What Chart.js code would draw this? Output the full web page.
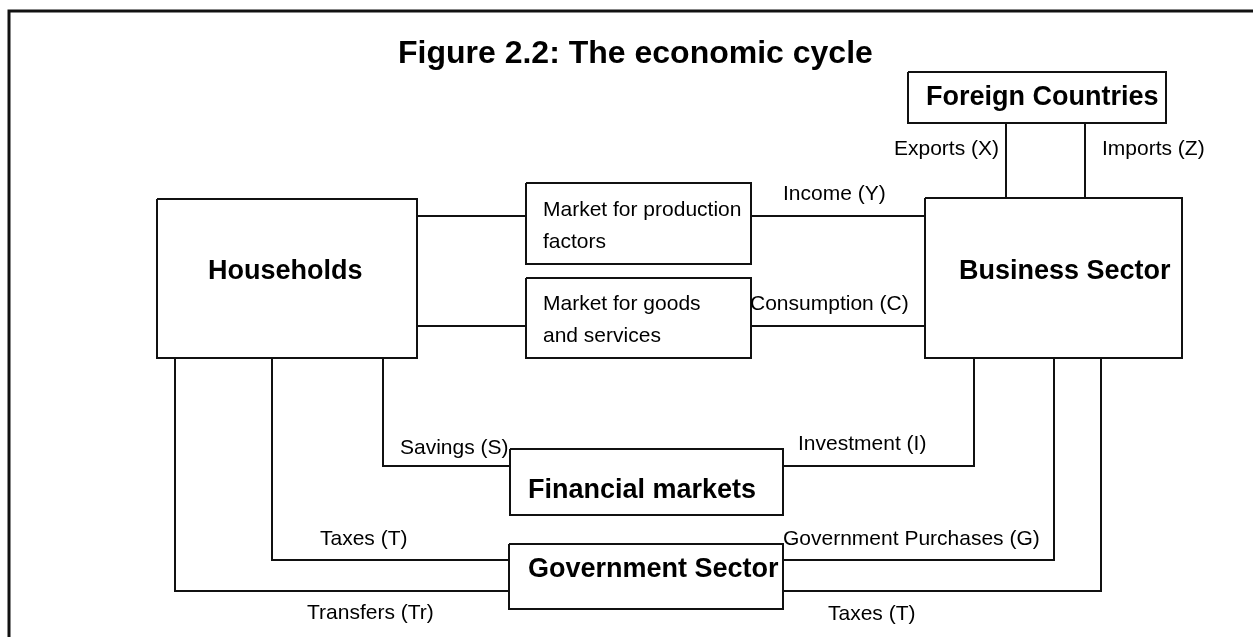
<!DOCTYPE html>
<html>
<head>
<meta charset="utf-8">
<title>Figure 2.2: The economic cycle</title>
<script src="https://cdn.jsdelivr.net/npm/chart.js@4.4.1/dist/chart.umd.min.js"></script>
<style>
    html, body { margin: 0; padding: 0; background: #fff; }
    .chart-container { position: relative; width: 1253px; height: 637px; }
</style>
</head>
<body>
<div class="chart-container"><canvas id="myChart"></canvas></div>
<script>
// Diagram units = reference pixels (x to the right, y downwards)
const plotWidth = 1253;
const plotHeight = 637;

const titleText = 'Figure 2.2: The economic cycle';
const titleX = 398;
const titleY = 63;

// Sector / market boxes
const boxNames = ['Foreign Countries', 'Households', 'Business Sector',
    'Market for production\nfactors', 'Market for goods\nand services',
    'Financial markets', 'Government Sector'];
const boxLeft   = [908, 157, 925, 526, 526, 510, 509];
const boxTop    = [72, 199, 198, 183, 278, 449, 544];
const boxRight  = [1166, 417, 1182, 751, 751, 783, 783];
const boxBottom = [123, 358, 358, 264, 358, 515, 609];
const boxBold   = [true, true, true, false, false, true, true];
const boxTextX  = [926, 208, 959, 543, 543, 528, 528];
const boxTextY  = [105, 279, 279, 216, 310, 498, 577];

// Flows between boxes (polylines)
const flowNames = ['Exports', 'Imports', 'Factors HH', 'Income', 'Goods HH', 'Consumption',
    'Savings', 'Investment', 'Taxes HH', 'Government Purchases', 'Transfers', 'Taxes business'];
const flowX = [
    [1006, 1006], [1085, 1085], [417, 526], [751, 925], [417, 526], [751, 925],
    [383, 383, 510], [783, 974, 974], [272, 272, 509], [783, 1054, 1054],
    [175, 175, 509], [783, 1101, 1101]
];
const flowY = [
    [123, 198], [123, 198], [216, 216], [216, 216], [326, 326], [326, 326],
    [358, 466, 466], [466, 466, 358], [358, 560, 560], [560, 560, 358],
    [358, 591, 591], [591, 591, 358]
];

// Flow labels
const labelTexts = ['Exports (X)', 'Imports (Z)', 'Income (Y)', 'Consumption (C)',
    'Savings (S)', 'Investment (I)', 'Taxes (T)', 'Government Purchases (G)',
    'Transfers (Tr)', 'Taxes (T)'];
const labelX = [894, 1102, 783, 750, 400, 798, 320, 783, 307, 828];
const labelY = [155, 155, 200, 310, 454, 450, 545, 545, 619, 620];

// Page frame (top and left edges)
const frameX = [9, 9, 1253];
const frameY = [637, 11, 11];

function toPoints(xs, ys) {
    return xs.map((x, i) => ({ x: x, y: ys[i] }));
}

function lineDataset(label, points, width) {
    return {
        label: label,
        data: points,
        showLine: true,
        borderColor: '#111111',
        borderWidth: width,
        pointRadius: 0,
        fill: false,
        tension: 0
    };
}

const datasets = [];
datasets.push(lineDataset('Frame', toPoints(frameX, frameY), 3));
boxNames.forEach((name, i) => {
    const xs = [boxLeft[i], boxRight[i], boxRight[i], boxLeft[i], boxLeft[i]];
    const ys = [boxTop[i], boxTop[i], boxBottom[i], boxBottom[i], boxTop[i]];
    datasets.push(lineDataset(name, toPoints(xs, ys), 2));
});
flowNames.forEach((name, i) => {
    datasets.push(lineDataset(name, toPoints(flowX[i], flowY[i]), 2));
});

// Draws all texts at diagram coordinates through the scales
const textPlugin = {
    id: 'diagramText',
    afterDatasetsDraw(chart) {
        const ctx = chart.ctx;
        const xs = chart.scales.x;
        const ys = chart.scales.y;
        ctx.save();
        ctx.fillStyle = '#000000';
        ctx.textAlign = 'left';
        ctx.textBaseline = 'alphabetic';

        ctx.font = 'bold 32px "Liberation Sans", Arial, sans-serif';
        ctx.fillText(titleText, xs.getPixelForValue(titleX), ys.getPixelForValue(titleY));

        boxNames.forEach((name, i) => {
            ctx.font = boxBold[i]
                ? 'bold 27px "Liberation Sans", Arial, sans-serif'
                : '21px "Liberation Sans", Arial, sans-serif';
            name.split('\n').forEach((line, j) => {
                ctx.fillText(line, xs.getPixelForValue(boxTextX[i]),
                    ys.getPixelForValue(boxTextY[i] + j * 32));
            });
        });

        ctx.font = '21px "Liberation Sans", Arial, sans-serif';
        labelTexts.forEach((text, i) => {
            ctx.fillText(text, xs.getPixelForValue(labelX[i]), ys.getPixelForValue(labelY[i]));
        });
        ctx.restore();
    }
};

const ctx = document.getElementById('myChart').getContext('2d');
new Chart(ctx, {
    type: 'scatter',
    data: { datasets: datasets },
    options: {
        responsive: true,
        maintainAspectRatio: false,
        animation: false,
        events: [],
        layout: { padding: 0 },
        plugins: {
            legend: { display: false },
            title: { display: false },
            tooltip: { enabled: false }
        },
        scales: {
            x: { type: 'linear', display: false, min: 0, max: plotWidth },
            y: { type: 'linear', display: false, min: 0, max: plotHeight, reverse: true }
        }
    },
    plugins: [textPlugin]
});
</script>
</body>
</html>
